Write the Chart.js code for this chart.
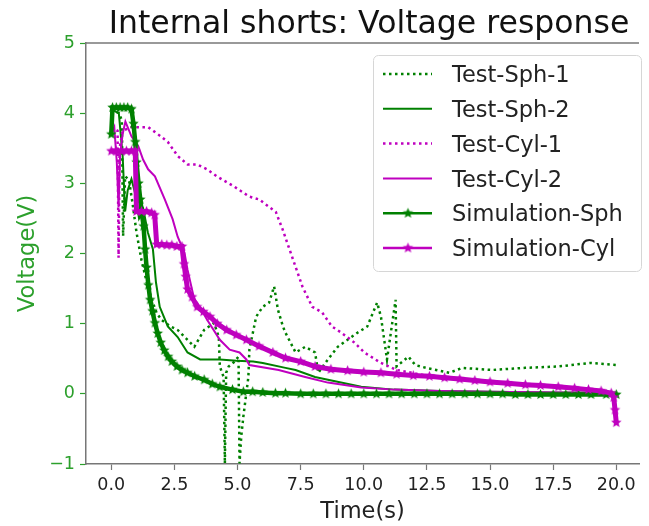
<!DOCTYPE html>
<html>
<head>
<meta charset="utf-8">
<script src="https://cdn.jsdelivr.net/npm/chart.js@4.4.1/dist/chart.umd.min.js"></script>
<style>
  html, body { margin: 0; padding: 0; background: #fff; }
  canvas { display: block; }
</style>
</head>
<body>
<canvas id="voltChart" width="649" height="526"></canvas>
<script>
// axis ticks
var timeTicks = [0, 2.5, 5, 7.5, 10, 12.5, 15, 17.5, 20];
var voltTicks = [-1, 0, 1, 2, 3, 4, 5];

// Test-Sph-1 (dotted green)
var sph1Time = [0, 0.3, 0.42, 0.47, 0.55, 0.7, 0.85, 1.0, 1.2, 1.4, 1.6, 1.8, 2.0, 2.35, 2.63, 3.02, 3.29, 3.5, 3.68, 4.07, 4.26, 4.3, 4.45, 4.5, 4.55, 4.65, 4.85, 5.04, 5.08, 5.15, 5.23, 5.43, 5.47, 5.74, 6.0, 6.25, 6.45, 6.6, 6.8, 6.9, 7.3, 7.68, 8.07, 8.2, 8.58, 8.97, 9.36, 9.75, 10.14, 10.53, 10.68, 10.92, 11.26, 11.3, 11.77, 12.04, 12.47, 13.4, 13.9, 15.08, 16.4, 17.7, 18.97, 20.0];
var sph1Volt = [4.05, 4.0, 3.9, 2.25, 3.1, 3.05, 2.7, 2.3, 1.9, 1.6, 1.35, 1.15, 1.05, 0.96, 0.91, 0.77, 0.67, 0.8, 0.91, 1.01, 0.81, 0.39, 0.24, -0.99, 0.3, 0.39, 0.45, 0.53, -0.99, -0.6, -0.33, 0.24, 0.63, 1.1, 1.24, 1.3, 1.53, 1.2, 0.96, 0.87, 0.59, 0.67, 0.59, 0.3, 0.49, 0.67, 0.77, 0.87, 0.96, 1.3, 1.1, 0.49, 1.34, 0.39, 0.53, 0.41, 0.37, 0.3, 0.37, 0.34, 0.37, 0.39, 0.44, 0.41];

// Test-Sph-2 (solid green)
var sph2Time = [0, 0.3, 0.45, 0.55, 0.65, 0.8, 0.95, 1.1, 1.27, 1.45, 1.65, 1.77, 1.92, 2.24, 2.63, 3.02, 3.52, 4.3, 4.96, 5.62, 6.0, 6.9, 7.3, 8.07, 8.58, 9.9, 11.2, 13, 15, 17.5, 20];
var sph2Volt = [4.05, 4.0, 3.4, 2.6, 2.9, 3.06, 2.85, 2.5, 2.63, 2.3, 2.06, 1.59, 1.24, 0.96, 0.81, 0.59, 0.49, 0.49, 0.47, 0.46, 0.44, 0.37, 0.34, 0.24, 0.2, 0.1, 0.06, 0.04, 0.03, 0.02, 0.02];

// Test-Cyl-1 (dotted magenta)
var cyl1Time = [0, 0.25, 0.29, 0.33, 0.45, 0.8, 1.46, 1.85, 2.24, 2.63, 3.02, 3.4, 3.79, 4.18, 4.84, 5.47, 5.86, 6.52, 6.79, 7.02, 7.3, 7.57, 7.96, 8.35, 8.74, 9.12, 9.63, 10.02, 10.68, 11.3, 12.35, 13.3];
var cyl1Volt = [3.8, 3.75, 1.94, 3.5, 3.75, 3.8, 3.8, 3.7, 3.59, 3.39, 3.27, 3.27, 3.2, 3.1, 2.96, 2.81, 2.77, 2.59, 2.34, 2.1, 1.81, 1.53, 1.24, 1.16, 0.96, 0.87, 0.73, 0.59, 0.44, 0.34, 0.27, 0.24];

// Test-Cyl-2 (solid magenta)
var cyl2Time = [0, 0.12, 0.22, 0.29, 0.35, 0.45, 0.56, 0.8, 1.07, 1.26, 1.46, 1.73, 2.12, 2.43, 2.63, 2.9, 3.02, 3.29, 3.4, 3.79, 4.3, 4.69, 5.08, 5.35, 5.47, 6.63, 7.68, 8.58, 9.9, 11.2, 13, 15, 17.5, 20];
var cyl2Volt = [3.7, 3.8, 3.3, 2.66, 3.4, 3.7, 3.88, 3.67, 3.53, 3.34, 3.2, 3.1, 2.77, 2.49, 2.24, 2.01, 1.77, 1.34, 1.3, 1.06, 0.77, 0.63, 0.59, 0.49, 0.41, 0.34, 0.24, 0.16, 0.09, 0.06, 0.04, 0.03, 0.02, 0.01];

// Simulation-Sph (green, star markers)
var simSphTime = [0, 0.05, 0.2, 0.35, 0.5, 0.65, 0.8, 0.88, 0.95, 1.0, 1.08, 1.15, 1.22, 1.28, 1.34, 1.4, 1.47, 1.54, 1.63, 1.73, 1.84, 1.96, 2.1, 2.25, 2.4, 2.6, 2.8, 3.02, 3.3, 3.68, 4.0, 4.3, 4.8, 5.23, 5.6, 6.0, 6.5, 6.9, 7.5, 8.0, 8.5, 9.0, 9.5, 10.0, 10.5, 11.0, 11.5, 12.0, 12.5, 13.0, 13.5, 14.0, 14.5, 15.0, 15.5, 16.0, 16.5, 17.0, 17.5, 18.0, 18.5, 19.0, 19.6, 20.0];
var simSphVolt = [3.7, 4.08, 4.08, 4.08, 4.08, 4.08, 4.06, 3.85, 3.59, 3.3, 3.0, 2.77, 2.55, 2.39, 2.06, 1.8, 1.55, 1.34, 1.18, 1.01, 0.86, 0.73, 0.62, 0.53, 0.46, 0.39, 0.34, 0.3, 0.25, 0.2, 0.14, 0.1, 0.06, 0.03, 0.03, 0.02, 0.01, 0.01, 0.0, 0.0, 0.0, 0.0, 0.0, 0.0, 0.0, 0.0, 0.0, 0.0, 0.0, 0.0, 0.0, 0.0, 0.0, 0.0, 0.0, -0.01, -0.01, -0.01, -0.01, -0.01, -0.01, -0.01, -0.01, -0.01];

// Simulation-Cyl (magenta, star markers)
var simCylTime = [0, 0.2, 0.4, 0.6, 0.8, 0.95, 1.0, 1.2, 1.4, 1.6, 1.72, 1.8, 2.0, 2.2, 2.4, 2.6, 2.8, 2.88, 2.95, 3.02, 3.2, 3.4, 3.65, 3.91, 4.2, 4.57, 4.95, 5.35, 5.85, 6.4, 6.9, 7.5, 8.07, 8.7, 9.36, 10.0, 10.68, 11.3, 11.96, 12.6, 13.2, 13.8, 14.4, 15.0, 15.7, 16.4, 17.0, 17.7, 18.35, 18.9, 19.4, 19.8, 19.9, 19.95, 20.0];
var simCylVolt = [3.46, 3.46, 3.46, 3.46, 3.46, 3.46, 2.6, 2.6, 2.6, 2.58, 2.55, 2.13, 2.13, 2.12, 2.12, 2.1, 2.1, 1.85, 1.67, 1.49, 1.38, 1.24, 1.17, 1.1, 1.0, 0.91, 0.84, 0.77, 0.68, 0.59, 0.51, 0.46, 0.39, 0.35, 0.33, 0.31, 0.3, 0.28, 0.26, 0.25, 0.23, 0.21, 0.19, 0.17, 0.15, 0.13, 0.12, 0.1, 0.08, 0.06, 0.04, 0.01, -0.05, -0.23, -0.41];

var GREEN = '#008000';
var MAGENTA = '#bf00bf';
var TICK_GREEN = '#2ca02c';
var SPINE = '#777777';
var FONT = '"DejaVu Sans", "Liberation Sans", sans-serif';

function pairs(ts, vs) {
  return ts.map(function (t, i) { return { x: t, y: vs[i] }; });
}

// filled five-point star, like matplotlib's '*' marker
function starMarker(color, r) {
  var s = Math.ceil(r * 2 + 2);
  var c = document.createElement('canvas');
  c.width = s; c.height = s;
  var g = c.getContext('2d');
  g.translate(s / 2, s / 2);
  g.beginPath();
  for (var i = 0; i < 10; i++) {
    var rad = i % 2 ? r * 0.45 : r;
    var a = -Math.PI / 2 + i * Math.PI / 5;
    g.lineTo(rad * Math.cos(a), rad * Math.sin(a));
  }
  g.closePath();
  g.fillStyle = color;
  g.fill();
  return c;
}

var greenStar = starMarker(GREEN, 5.5);
var magentaStar = starMarker(MAGENTA, 5.5);

var datasets = [
  { label: 'Test-Sph-1', data: pairs(sph1Time, sph1Volt), borderColor: GREEN, borderWidth: 2.5, borderDash: [2.5, 3.5], pointRadius: 0, order: 5 },
  { label: 'Test-Sph-2', data: pairs(sph2Time, sph2Volt), borderColor: GREEN, borderWidth: 2, pointRadius: 0, order: 4 },
  { label: 'Test-Cyl-1', data: pairs(cyl1Time, cyl1Volt), borderColor: MAGENTA, borderWidth: 2.5, borderDash: [2.5, 3.5], pointRadius: 0, order: 3 },
  { label: 'Test-Cyl-2', data: pairs(cyl2Time, cyl2Volt), borderColor: MAGENTA, borderWidth: 2, pointRadius: 0, order: 2 },
  { label: 'Simulation-Sph', data: pairs(simSphTime, simSphVolt), borderColor: GREEN, borderWidth: 4.5, pointStyle: greenStar, pointRadius: 5, order: 1 },
  { label: 'Simulation-Cyl', data: pairs(simCylTime, simCylVolt), borderColor: MAGENTA, borderWidth: 5, pointStyle: magentaStar, pointRadius: 5, order: 0 }
];

// title, top spine and the boxed legend in the upper right
var decorPlugin = {
  id: 'decor',
  afterDraw: function (chart) {
    var ctx = chart.ctx, area = chart.chartArea;
    ctx.save();

    ctx.strokeStyle = SPINE;
    ctx.lineWidth = 1.5;
    ctx.beginPath();
    ctx.moveTo(area.left, area.top);
    ctx.lineTo(area.right, area.top);
    ctx.stroke();

    ctx.fillStyle = '#111';
    ctx.font = '31.5px ' + FONT;
    ctx.textAlign = 'center';
    ctx.textBaseline = 'alphabetic';
    ctx.fillText('Internal shorts: Voltage response', 369, 33);

    // legend frame
    ctx.beginPath();
    ctx.roundRect(373.5, 55.5, 268, 216, 5);
    ctx.fillStyle = 'rgba(255,255,255,0.8)';
    ctx.fill();
    ctx.strokeStyle = '#d6d6d6';
    ctx.lineWidth = 1;
    ctx.stroke();

    ctx.font = '22.5px ' + FONT;
    ctx.textAlign = 'left';
    chart.data.datasets.forEach(function (ds, i) {
      var y = 74 + i * 34.8;
      ctx.strokeStyle = ds.borderColor;
      ctx.lineWidth = ds.pointStyle ? 2.5 : ds.borderWidth;
      ctx.setLineDash(ds.borderDash || []);
      ctx.beginPath();
      ctx.moveTo(383, y);
      ctx.lineTo(432, y);
      ctx.stroke();
      ctx.setLineDash([]);
      if (ds.pointStyle) {
        var m = ds.pointStyle;
        ctx.drawImage(m, 408 - m.width / 2, y - m.height / 2);
      }
      ctx.fillStyle = '#222';
      ctx.fillText(ds.label, 452, y + 8.2);
    });
    ctx.restore();
  }
};

new Chart(document.getElementById('voltChart').getContext('2d'), {
  type: 'line',
  data: { datasets: datasets },
  options: {
    responsive: false,
    animation: false,
    devicePixelRatio: 1,
    layout: { padding: { top: 43, left: 0, right: 0, bottom: 0 } },
    elements: { line: { tension: 0, fill: false } },
    plugins: {
      legend: { display: false },
      tooltip: { enabled: false },
      title: { display: false }
    },
    scales: {
      x: {
        type: 'linear',
        min: -1,
        max: 20.9,
        afterFit: function (s) { s.height = 62; },
        afterBuildTicks: function (s) { s.ticks = timeTicks.map(function (v) { return { value: v }; }); },
        grid: { drawOnChartArea: false, drawTicks: true, tickLength: 6, tickColor: SPINE, tickWidth: 1.2 },
        border: { display: true, color: SPINE, width: 1.5 },
        ticks: {
          color: '#222',
          padding: 5,
          maxRotation: 0,
          font: { family: FONT, size: 17.5 },
          callback: function (v) { return v.toFixed(1); }
        },
        title: {
          display: true,
          text: 'Time(s)',
          color: '#222',
          font: { family: FONT, size: 22.5 },
          padding: { top: 0, bottom: 0 }
        }
      },
      y: {
        min: -1,
        max: 5,
        afterFit: function (s) { s.width = 86; },
        afterBuildTicks: function (s) { s.ticks = voltTicks.map(function (v) { return { value: v }; }); },
        grid: { drawOnChartArea: false, drawTicks: true, tickLength: 6, tickColor: TICK_GREEN, tickWidth: 1.2 },
        border: { display: true, color: SPINE, width: 1.5 },
        ticks: {
          color: TICK_GREEN,
          padding: 5,
          font: { family: FONT, size: 17.5 },
          callback: function (v) { return v < 0 ? '\u2212' + Math.abs(v) : String(v); }
        },
        title: {
          display: true,
          text: 'Voltage(V)',
          color: TICK_GREEN,
          font: { family: FONT, size: 22.5 },
          padding: { top: 15, bottom: 0 }
        }
      }
    }
  },
  plugins: [decorPlugin]
});
</script>
</body>
</html>
